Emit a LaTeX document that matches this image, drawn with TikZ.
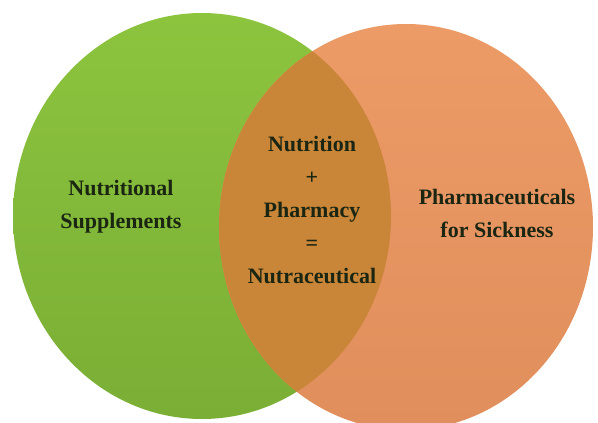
\documentclass[tikz,border=0pt]{standalone}
\usepackage{fontspec}
\setmainfont{Liberation Serif}
\definecolor{leafgreen}{HTML}{8CC43E}
\definecolor{leafdark}{HTML}{7AAE35}
\definecolor{peach}{HTML}{EC9A66}
\definecolor{peachdark}{HTML}{E08F5C}
\definecolor{lensbrown}{HTML}{C98538}
\definecolor{inkgreen}{HTML}{1B2612}

\begin{document}
\begin{tikzpicture}[x=1pt,y=-1pt,set label/.style={align=center,font=\bfseries\fontsize{22}{33}\selectfont,text=inkgreen,inner sep=0pt}]
                \useasboundingbox[fill=white] (0,0) rectangle (598,423);
                \coordinate (g) at (202,216);
                \coordinate (o) at (406,227);

                \shade[top color=leafgreen,bottom color=leafdark] (g) ellipse [x radius=189, y radius=203];
                \shade[top color=peach,bottom color=peachdark] (o) ellipse [x radius=187, y radius=203];
                \begin{scope}
                    \clip (g) ellipse [x radius=189, y radius=203];
                    \fill[lensbrown] (o) ellipse [x radius=187, y radius=203];
                \end{scope}

                \node[set label] (1) at (121,207) {Nutritional\\Supplements};
                \node[set label] (2) at (312,210) {Nutrition\\+\\Pharmacy\\=\\Nutraceutical};
                \node[set label] (3) at (497,213) {Pharmaceuticals\\for Sickness};
            \end{tikzpicture}
\end{document}
